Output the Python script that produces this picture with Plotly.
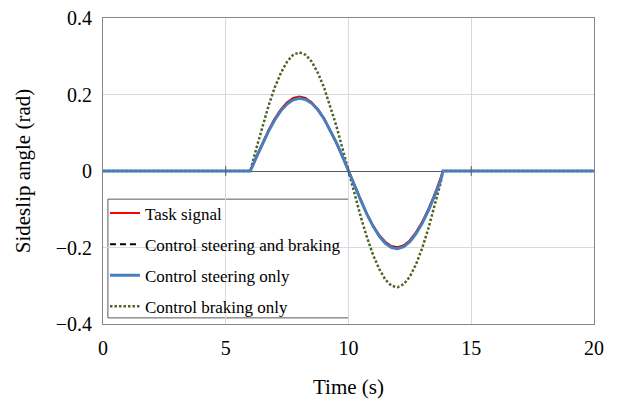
import plotly.graph_objects as go

# Time base (s) for the manoeuvre samples
t = [0.0, 6.0, 6.25, 6.5, 6.75, 7.0, 7.25, 7.5, 7.75, 8.0, 8.25, 8.5, 8.75, 9.0,
     9.25, 9.5, 9.75, 10.0, 10.25, 10.5, 10.75, 11.0, 11.25, 11.5, 11.75, 12.0,
     12.25, 12.5, 12.75, 13.0, 13.25, 13.5, 13.75, 13.85, 20.0]

# Sideslip angle (rad)
task_signal = [0.0, 0.0, 0.038, 0.075, 0.108, 0.138, 0.162, 0.180, 0.191, 0.195,
               0.191, 0.180, 0.162, 0.138, 0.108, 0.075, 0.038, 0.0, -0.040, -0.078,
               -0.113, -0.143, -0.167, -0.185, -0.196, -0.199, -0.194, -0.181, -0.160,
               -0.133, -0.100, -0.062, -0.021, 0.0, 0.0]
steer_and_brake = [0.0, 0.0, 0.037, 0.073, 0.106, 0.136, 0.160, 0.177, 0.188, 0.192,
                   0.189, 0.178, 0.161, 0.137, 0.108, 0.075, 0.038, 0.001, -0.039, -0.077,
                   -0.113, -0.144, -0.169, -0.187, -0.198, -0.201, -0.196, -0.183, -0.162,
                   -0.135, -0.102, -0.064, -0.023, 0.0, 0.0]
steer_only = [0.0, 0.0, 0.036, 0.072, 0.105, 0.134, 0.158, 0.175, 0.186, 0.190,
              0.187, 0.177, 0.160, 0.137, 0.108, 0.075, 0.039, 0.002, -0.038, -0.077,
              -0.113, -0.144, -0.170, -0.189, -0.200, -0.203, -0.198, -0.185, -0.164,
              -0.137, -0.104, -0.066, -0.025, 0.0, 0.0]
brake_only = [0.0, 0.0, 0.060, 0.119, 0.172, 0.219, 0.257, 0.286, 0.304, 0.310,
              0.304, 0.286, 0.257, 0.219, 0.172, 0.119, 0.060, 0.0, -0.062, -0.120,
              -0.173, -0.219, -0.256, -0.284, -0.300, -0.304, -0.296, -0.276, -0.244,
              -0.202, -0.151, -0.094, -0.032, 0.0, 0.0]

x_ticks = [0, 5, 10, 15, 20]
y_ticks = [-0.4, -0.2, 0, 0.2, 0.4]
y_tick_text = ["\u22120.4", "\u22120.2", "0", "0.2", "0.4"]

FONT = "Liberation Serif"

fig = go.Figure()
fig.add_trace(go.Scatter(x=t, y=brake_only, mode="lines", name="Control braking only",
                         line=dict(color="#4f6228", width=2.5, dash="2.5px,2px"),
                         legendgroup="d", legendrank=4))
fig.add_trace(go.Scatter(x=t, y=task_signal, mode="lines", name="Task signal",
                         line=dict(color="#ff0000", width=2),
                         legendgroup="a", legendrank=1))
fig.add_trace(go.Scatter(x=t, y=steer_and_brake, mode="lines",
                         name="Control steering and braking",
                         line=dict(color="#000000", width=2, dash="6px,4px"),
                         legendgroup="b", legendrank=2))
fig.add_trace(go.Scatter(x=t, y=steer_only, mode="lines", name="Control steering only",
                         line=dict(color="#4a7ebb", width=3),
                         legendgroup="c", legendrank=3))

# Excel-style tick marks crossing the zero line
for xv in [5, 10, 15]:
    fig.add_shape(type="line", xref="x", yref="y", x0=xv, x1=xv, y0=-0.013, y1=0.013,
                  line=dict(color="#595959", width=1), layer="above")

# Framed white panel behind the legend entries
fig.add_shape(type="rect", xref="x domain", yref="y domain",
              x0=0.010, x1=0.500, y0=0.020, y1=0.408,
              fillcolor="white", line=dict(color="#595959", width=1), layer="below")

fig.update_layout(
    width=618, height=406,
    margin=dict(l=103, r=24, t=18, b=82),
    paper_bgcolor="white", plot_bgcolor="white",
    font=dict(family=FONT, color="#000000", size=20),
    showlegend=True,
    legend=dict(x=0.004, y=0.42, xanchor="left", yanchor="top",
                bgcolor="rgba(0,0,0,0)", borderwidth=0,
                font=dict(family=FONT, size=17, color="#000000"),
                traceorder="grouped", tracegroupgap=6, itemwidth=30),
)
fig.update_xaxes(
    range=[0, 20], tickvals=x_ticks, ticktext=[str(v) for v in x_ticks],
    showgrid=True, gridcolor="#d9d9d9", gridwidth=1,
    showline=True, linecolor="#868686", linewidth=1, mirror=True,
    ticks="", zeroline=False, ticklabelstandoff=6, automargin=False,
    tickfont=dict(family=FONT, size=20),
    title=dict(text="Time (s)", font=dict(family=FONT, size=21), standoff=21),
)
fig.update_yaxes(
    range=[-0.4, 0.4], tickvals=y_ticks, ticktext=y_tick_text,
    showgrid=True, gridcolor="#d9d9d9", gridwidth=1,
    showline=True, linecolor="#868686", linewidth=1, mirror=True,
    ticks="", zeroline=True, zerolinecolor="#595959", zerolinewidth=1,
    ticklabelstandoff=6, automargin=False,
    tickfont=dict(family=FONT, size=20),
    title=dict(text="Sideslip angle (rad)", font=dict(family=FONT, size=21), standoff=19),
)

fig.write_html("out.html")
